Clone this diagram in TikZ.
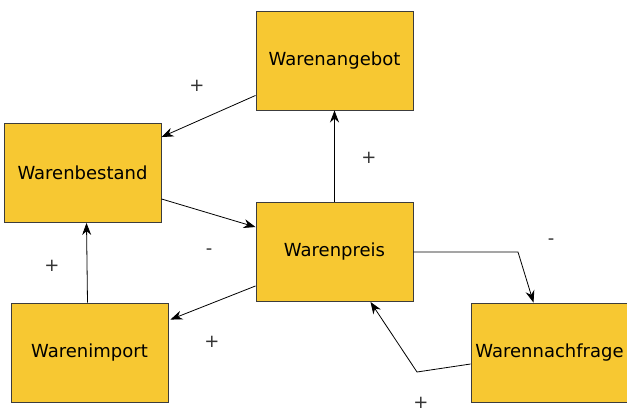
\documentclass[tikz,border=0pt]{standalone}
\usepackage{fontspec}
\setmainfont{DejaVu Sans}
\usetikzlibrary{arrows.meta}

\definecolor{boxyellow}{RGB}{247,200,50}
\definecolor{boxline}{RGB}{60,60,60}
\tikzset{
  factor/.style={draw=boxline,fill=boxyellow,line width=0.9pt,minimum width=157pt,
    minimum height=99pt,inner sep=0pt,font=\fontsize{18}{20}\selectfont},
  sign/.style={text=black!80,font=\fontsize{18}{20}\selectfont}
}

\begin{document}
\begin{tikzpicture}[x=1pt,y=-1pt,>={Stealth[length=12pt,width=9pt]},line width=0.8pt]
\useasboundingbox (0,0) rectangle (627,413);
\node[factor] (angebot) at (334.5,60.5) {Warenangebot};
\node[factor] (bestand) at (82.5,173) {Warenbestand};
\node[factor] (preis) at (334.5,252) {Warenpreis};
\node[factor] (import) at (89.5,352.5) {Warenimport};
\node[factor] (nachfrage) at (549.5,352.5) {Warennachfrage};
\coordinate (knick1) at (518,252);
\coordinate (knick2) at (417,372);
\node[sign] (s1) at (197,86) {+};
\node[sign] (s2) at (369,158) {+};
\node[sign] (s3) at (209,252) {-};
\node[sign] (s4) at (212,342) {+};
\node[sign] (s5) at (52,266) {+};
\node[sign] (s6) at (551,242) {-};
\node[sign] (s7) at (421,403) {+};
\draw[->] ([yshift=15pt]angebot.south west) -- ([yshift=-14pt]bestand.north east);
\draw[->] (preis.north) -- (angebot.south);
\draw[->] ([yshift=24pt]bestand.south east) -- ([yshift=-25pt]preis.north west);
\draw[->] ([yshift=16pt]preis.south west) -- ([yshift=-17pt,xshift=2pt]import.north east);
\draw[->] ([xshift=-2pt]import.north) -- ([xshift=4pt]bestand.south);
\draw[->] (preis.east) -- (knick1) -- ([xshift=-16pt]nachfrage.north);
\draw[->] ([yshift=-11.5pt]nachfrage.west) -- (knick2) -- ([xshift=36pt]preis.south);
\end{tikzpicture}
\end{document}
